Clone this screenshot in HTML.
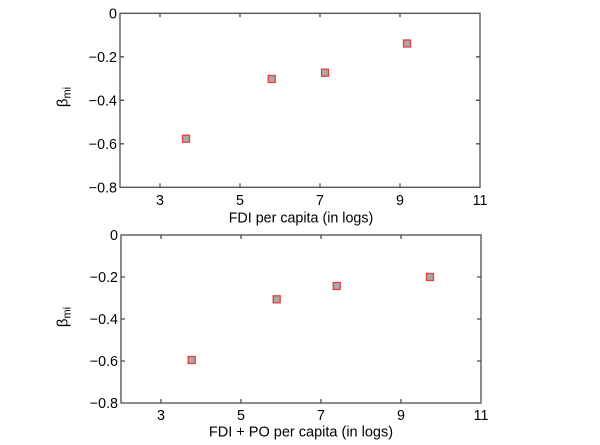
<!DOCTYPE html>
<html><head><meta charset="utf-8"><style>
html,body{margin:0;padding:0;background:#fff;}
svg{display:block;}
text{font-family:"Liberation Sans",Arial,sans-serif;fill:#000;}
</style></head><body>
<svg width="600" height="445" viewBox="0 0 600 445" xmlns="http://www.w3.org/2000/svg">
<rect width="600" height="445" fill="#fff"/>
<!-- Top axes -->
<g stroke="#4d4d4d" stroke-width="1.3" fill="none">
<rect x="120" y="13.3" width="360" height="174"/>
<path d="M160 13.3v4M240 13.3v4M320 13.3v4M400 13.3v4M160 187.3v-4M240 187.3v-4M320 187.3v-4M400 187.3v-4"/>
<path d="M120 56.8h4M120 100.3h4M120 143.8h4M480 56.8h-4M480 100.3h-4M480 143.8h-4"/>
</g>
<g font-size="14.3" text-anchor="end">
<text x="117" y="18.5">0</text>
<text x="117" y="62">−0.2</text>
<text x="117" y="105.5">−0.4</text>
<text x="117" y="149">−0.6</text>
<text x="117" y="192.5">−0.8</text>
</g>
<g font-size="14.3" text-anchor="middle">
<text x="160" y="205">3</text>
<text x="240" y="205">5</text>
<text x="320" y="205">7</text>
<text x="400" y="205">9</text>
<text x="480" y="205">11</text>
<text x="301" y="222.5">FDI per capita (in logs)</text>
</g>
<text transform="translate(67.5,97) rotate(-90)" font-size="15" text-anchor="middle">β<tspan font-size="11" dy="3">mi</tspan></text>
<g fill="#a3abab" stroke="#f03a3a" stroke-width="1.3">
<rect x="182.5" y="135.2" width="7" height="7"/>
<rect x="268.2" y="75.5" width="7" height="7"/>
<rect x="321.5" y="69.2" width="7" height="7"/>
<rect x="403.5" y="40" width="7" height="7"/>
</g>

<!-- Bottom axes -->
<g stroke="#4d4d4d" stroke-width="1.3" fill="none">
<rect x="121" y="235" width="360" height="168"/>
<path d="M161 235v4M241 235v4M321 235v4M401 235v4M161 403v-4M241 403v-4M321 403v-4M401 403v-4"/>
<path d="M121 277h4M121 319h4M121 361h4M481 277h-4M481 319h-4M481 361h-4"/>
</g>
<g font-size="14.3" text-anchor="end">
<text x="118" y="240">0</text>
<text x="118" y="282">−0.2</text>
<text x="118" y="324">−0.4</text>
<text x="118" y="366">−0.6</text>
<text x="118" y="408">−0.8</text>
</g>
<g font-size="14.3" text-anchor="middle">
<text x="161" y="420">3</text>
<text x="241" y="420">5</text>
<text x="321" y="420">7</text>
<text x="401" y="420">9</text>
<text x="481" y="420">11</text>
<text x="301" y="436.5" font-size="14.5">FDI + PO per capita (in logs)</text>
</g>
<text transform="translate(67.5,317) rotate(-90)" font-size="15" text-anchor="middle">β<tspan font-size="11" dy="3">mi</tspan></text>
<g fill="#a3abab" stroke="#f03a3a" stroke-width="1.3">
<rect x="188.2" y="356.5" width="7" height="7"/>
<rect x="273.2" y="295.8" width="7" height="7"/>
<rect x="333.2" y="282.5" width="7" height="7"/>
<rect x="426.5" y="273.5" width="7" height="7"/>
</g>
</svg>
</body></html>
